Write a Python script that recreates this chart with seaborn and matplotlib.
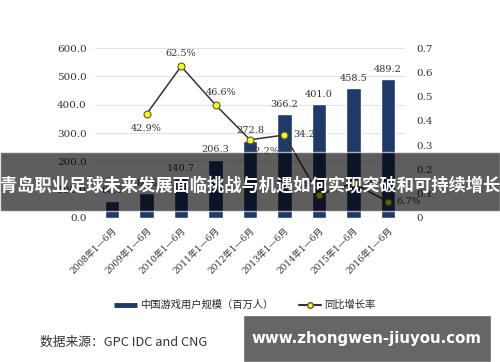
import numpy as np
import matplotlib
matplotlib.use("Agg")
import matplotlib.pyplot as plt
import seaborn as sns
from matplotlib.patches import Rectangle
from matplotlib.lines import Line2D

# data
periods = ["2008年1—6月", "2009年1—6月", "2010年1—6月", "2011年1—6月", "2012年1—6月",
           "2013年1—6月", "2014年1—6月", "2015年1—6月", "2016年1—6月"]
users = [60.6, 86.6, 140.7, 206.3, 272.8, 366.2, 401.0, 458.5, 489.2]
growth_periods = periods[1:]
growth = [0.429, 0.625, 0.466, 0.322, 0.342, 0.095, 0.143, 0.067]
growth_labels = ["42.9%", "62.5%", "46.6%", "32.2%", "34.2%", "9.5%", "14.3%", "6.7%"]

title = "青岛职业足球未来发展面临挑战与机遇如何实现突破和可持续增长"

sns.set_theme(style="white")
plt.rcParams['font.family'] = ['DejaVu Serif', 'Noto Sans CJK SC']

fig = plt.figure(figsize=(5, 3.62), dpi=100)
ax = fig.add_axes([0.19, 0.398, 0.62, 0.469])

bar_color = "#1f3a68"
sns.barplot(x=periods, y=users, color=bar_color, width=0.42, ax=ax, saturation=1)
ax.set_ylim(0, 600)
ax.set_xlim(-0.5, len(periods) - 0.5)
ax.set_yticks(np.arange(0, 601, 100))
ax.set_yticklabels([f"{v:.1f}" for v in np.arange(0, 601, 100)], fontsize=7.5, color="#333333")
ax.yaxis.grid(True, color="#e3e3e3", linewidth=0.8)
ax.set_axisbelow(True)
for s in ax.spines.values():
    s.set_visible(False)
ax.tick_params(axis="both", length=0, pad=6)
ax.set_xticks(range(len(periods)))
ax.set_xticklabels(periods, rotation=45, ha="right", rotation_mode="anchor",
                   fontsize=6.5, color="#333333")
ax.set_xlabel("")

for i, v in enumerate(users):
    ax.annotate(f"{v:.1f}", (i, v), xytext=(0, 4), textcoords="offset points",
                ha="center", va="bottom", fontsize=7, color="#333333")

ax2 = ax.twinx()
xpos = [periods.index(p) for p in growth_periods]
sns.lineplot(x=xpos, y=growth, ax=ax2, color="#333333", linewidth=1.1, sort=False,
             marker="o", markersize=5, markerfacecolor="#ffff00", markeredgecolor="#555555",
             markeredgewidth=0.8)
ax2.set_ylim(0, 0.7)
ax2.set_yticks(np.arange(0, 0.71, 0.1))
ax2.set_yticklabels(["0"] + [f"{v:.1f}" for v in np.arange(0.1, 0.71, 0.1)],
                    fontsize=7.5, color="#333333")
ax2.tick_params(axis="y", length=0, pad=8)
for s in ax2.spines.values():
    s.set_visible(False)
ax2.grid(False)

offsets = [(0, -7, "center", "top"), (0, 6, "center", "bottom"), (4, 6, "center", "bottom"),
           (10, -5, "center", "top"), (6, 0, "left", "center"), (-2, 5, "center", "bottom"),
           (6, 0, "left", "center"), (6, 0, "left", "center")]
for x, g, lab, (dx, dy, ha, va) in zip(xpos, growth, growth_labels, offsets):
    ax2.annotate(lab, (x, g), xytext=(dx, dy), textcoords="offset points",
                 ha=ha, va=va, fontsize=7, color="#333333")

handles = [Line2D([], [], color=bar_color, linewidth=3.5, solid_capstyle="butt"),
           Line2D([], [], color="#333333", marker="o", markersize=4,
                  markerfacecolor="#ffff00", markeredgecolor="#555555")]
fig.legend(handles, ["中国游戏用户规模（百万人）", "同比增长率"], loc="center",
           bbox_to_anchor=(0.49, 1 - 305 / 362), ncol=2, frameon=False,
           handlelength=2.2, columnspacing=2.5, handletextpad=0.3,
           prop={"family": ["Noto Sans CJK SC"], "size": 7.4})

fig.text(40 / 500, 1 - 342 / 362, "数据来源：GPC IDC and CNG", fontsize=9.2,
         color="#333333", ha="left", va="center", family=["Noto Sans CJK SC", "DejaVu Sans"])

# dark banner over the chart
fig.patches.append(Rectangle((0, 1 - 211 / 362), 1, 59 / 362, transform=fig.transFigure,
                             facecolor="black", alpha=0.63, zorder=10))
fig.text(0.5, 1 - 186 / 362, title, fontsize=12.45, color="white", weight="bold",
         ha="center", va="center", zorder=11, family=["Noto Sans CJK SC"])

# watermark box
fig.patches.append(Rectangle((243 / 500, 0), 248 / 500, 47 / 362, transform=fig.transFigure,
                             facecolor="#666666", zorder=10))
fig.text(366 / 500, 1 - 338 / 362, "www.zhongwen-jiuyou.com", fontsize=10.8, color="white",
         weight="bold", ha="center", va="center", zorder=11, family=["DejaVu Sans"])

fig.savefig("out.png", dpi=100)
